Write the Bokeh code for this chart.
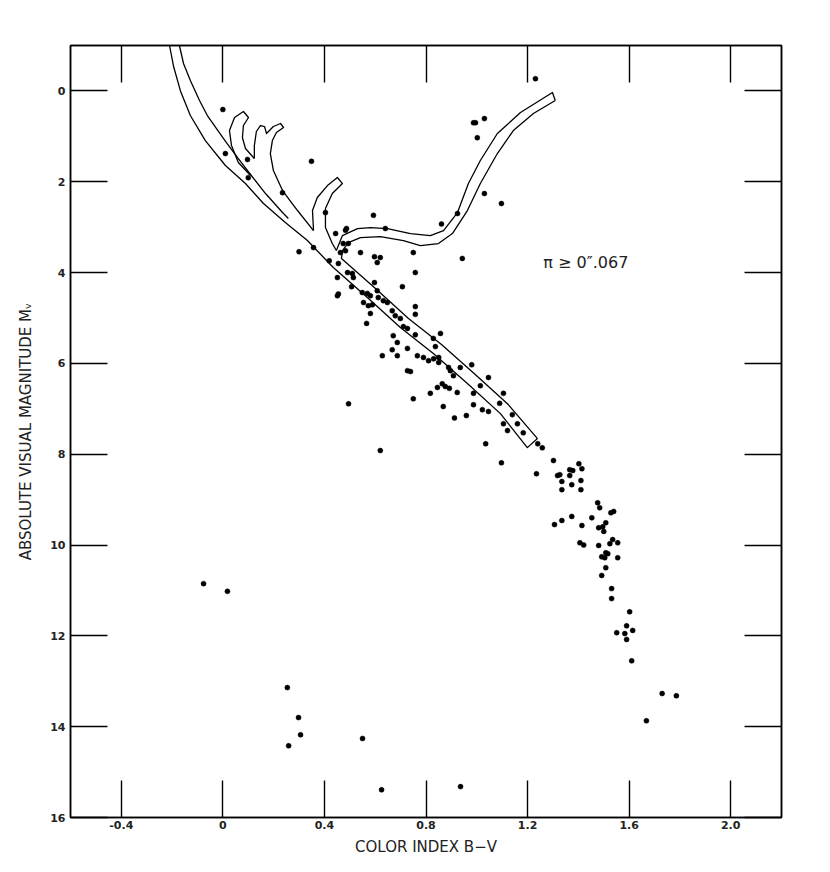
from bokeh.plotting import figure
from bokeh.models import LinearAxis, FixedTicker, Label, CustomJSTickFormatter, Range1d
from bokeh.embed import file_html
from bokeh.resources import INLINE

# ---------------- data ----------------
x_ticks = [-0.4, 0.0, 0.4, 0.8, 1.2, 1.6, 2.0]
x_tick_labels = ["-0.4", "0", "0.4", "0.8", "1.2", "1.6", "2.0"]
y_ticks = [0, 2, 4, 6, 8, 10, 12, 14, 16]
y_tick_labels = ["0", "2", "4", "6", "8", "10", "12", "14", "16"]

star_bv = [
    0.00, 0.01, 0.097, 0.10, 0.235, 0.349, 0.404, 0.30, 0.357, 0.444, 0.593,
    1.231, 0.987, 0.995, 1.030, 1.002, 1.030, 1.097, 0.924, 0.861, 0.640, 0.487, 0.483,
    0.474, 0.494, 0.463, 0.483, 0.542, 0.750, 0.597, 0.620, 0.608, 0.943, 0.419, 0.455,
    0.758, 0.491, 0.510, 0.451, 0.514, 0.597, 0.507, 0.707, 0.451, 0.455, 0.549, 0.569,
    0.581, 0.612, 0.632, 0.648, 0.608, 0.554, 0.573, 0.589, 0.581, 0.758, 0.758, 0.667,
    0.679, 0.699, 0.566, 0.711, 0.727, 0.671, 0.687, 0.758, 0.857, 0.829, 0.837, 0.628,
    0.667, 0.687, 0.727, 0.766, 0.790, 0.81, 0.83, 0.85, 0.85, 0.727, 0.739, 0.889,
    0.896, 0.935, 0.980, 0.908, 1.014, 1.046, 0.864, 0.876, 0.845, 0.892, 0.923, 0.817,
    0.987, 1.105, 0.750, 0.495, 0.868, 0.987, 1.022, 1.046, 1.090, 1.140, 0.912, 0.959,
    1.121, 1.160, 1.183, 1.105, 1.035, 1.240, 1.258, 0.62,
    1.097, 1.235, 1.302, 1.318, 1.327, 1.335, 1.335, 1.366, 1.378, 1.366, 1.374, 1.402,
    1.414, 1.410, 1.410, 1.306, 1.335, 1.374, 1.414, 1.453, 1.476, 1.484, 1.528, 1.539,
    1.508, 1.480, 1.496, 1.500, 1.406, 1.421, 1.480, 1.524, 1.535, 1.555, 1.508, 1.516,
    1.492, 1.504, 1.555, 1.508, 1.492, 1.531, 1.531, 1.602, 1.590, 1.551, 1.583, 1.614,
    1.590, 1.610, 1.730, 1.786, 1.668,
    -0.076, 0.018, 0.254, 0.298, 0.306, 0.259, 0.550, 0.625, 0.936,
]
star_mv = [
    0.41, 1.38, 1.51, 1.91, 2.24, 1.55, 2.68, 3.54, 3.45, 3.14, 2.74,
    -0.27, 0.70, 0.70, 0.61, 1.03, 2.26, 2.48, 2.70, 2.93, 3.03, 3.03, 3.07,
    3.36, 3.36, 3.56, 3.52, 3.56, 3.56, 3.65, 3.67, 3.78, 3.69, 3.74, 3.80,
    4.00, 4.00, 4.02, 4.11, 4.11, 4.22, 4.31, 4.31, 4.51, 4.47, 4.44, 4.46,
    4.51, 4.55, 4.62, 4.66, 4.40, 4.66, 4.73, 4.71, 4.90, 4.75, 4.92, 4.84,
    4.95, 5.01, 5.12, 5.19, 5.23, 5.39, 5.54, 5.37, 5.34, 5.45, 5.63, 5.83,
    5.70, 5.83, 5.67, 5.83, 5.87, 5.94, 5.90, 5.87, 5.98, 6.16, 6.18, 6.09,
    6.16, 6.09, 6.03, 6.27, 6.49, 6.31, 6.45, 6.51, 6.53, 6.55, 6.64, 6.66,
    6.66, 6.66, 6.78, 6.89, 6.95, 6.91, 7.02, 7.06, 6.88, 7.13, 7.20, 7.15,
    7.48, 7.33, 7.53, 7.33, 7.77, 7.77, 7.86, 7.92,
    8.19, 8.43, 8.14, 8.47, 8.45, 8.60, 8.78, 8.34, 8.36, 8.47, 8.67, 8.21,
    8.32, 8.58, 8.78, 9.55, 9.46, 9.37, 9.57, 9.40, 9.07, 9.18, 9.29, 9.26,
    9.51, 9.62, 9.60, 9.70, 9.95, 10.00, 10.01, 9.97, 9.88, 9.95, 10.17, 10.19,
    10.26, 10.28, 10.28, 10.50, 10.67, 10.96, 11.18, 11.47, 11.78, 11.93, 11.95, 11.88,
    12.08, 12.55, 13.27, 13.32, 13.87,
    10.85, 11.02, 13.14, 13.80, 14.18, 14.42, 14.26, 15.39, 15.32,
]

# lower (zero-age) edge of the main-sequence band, with its closing cap
ms_lower_bv = [-0.210, -0.194, -0.167, -0.128, -0.069, 0.010, 0.089, 0.160, 0.246,
               0.333, 0.435, 0.569, 0.699, 0.829, 0.963, 1.093, 1.199, 1.239]
ms_lower_mv = [-1.0, -0.537, 0.0, 0.542, 1.093, 1.643, 2.040, 2.480, 2.899,
               3.295, 3.890, 4.551, 5.211, 5.784, 6.445, 7.106, 7.855, 7.656]

# upper edge of the main-sequence band turning into the lower edge of the giant branch
ms_upper_bv = [1.239, 1.124, 0.994, 0.861, 0.731, 0.601, 0.467, 0.471, 0.494, 0.542,
               0.620, 0.711, 0.778, 0.849, 0.904, 0.963, 1.014, 1.081, 1.144, 1.223, 1.309]
ms_upper_mv = [7.656, 6.907, 6.247, 5.586, 5.013, 4.352, 3.692, 3.515, 3.339, 3.229,
               3.207, 3.295, 3.405, 3.361, 3.141, 2.634, 2.040, 1.379, 0.872, 0.498, 0.211]

# upper edge of the giant branch band, back down to the turnoff
giant_upper_bv = [1.309, 1.298, 1.172, 1.081, 1.014, 0.967, 0.924, 0.869, 0.817,
                  0.739, 0.648, 0.581, 0.530, 0.471, 0.447]
giant_upper_mv = [0.211, 0.035, 0.476, 0.938, 1.533, 2.040, 2.678, 3.075, 3.185,
                  3.141, 3.031, 3.009, 3.031, 3.185, 3.515]

# hook at B-V ~ 0.4
hook3_bv = [0.447, 0.431, 0.404, 0.404, 0.431, 0.471, 0.451, 0.412, 0.372, 0.353, 0.357]
hook3_mv = [3.515, 3.361, 3.009, 2.590, 2.260, 2.040, 1.907, 2.084, 2.348, 2.634, 3.075]

# long track and the double hook at B-V ~ 0.15-0.24
hook2_bv = [0.357, 0.294, 0.235, 0.199, 0.187, 0.195, 0.211, 0.239, 0.227, 0.199,
            0.172, 0.164, 0.148, 0.132, 0.124, 0.124]
hook2_mv = [3.075, 2.634, 2.194, 1.753, 1.379, 1.093, 0.916, 0.806, 0.718, 0.784,
            0.938, 0.784, 0.762, 0.894, 1.203, 1.489]

# hook at B-V ~ 0.05
hook1_bv = [0.124, 0.089, 0.077, 0.081, 0.101, 0.081, 0.046, 0.026, 0.034, 0.061, 0.109]
hook1_mv = [1.489, 1.269, 1.026, 0.762, 0.586, 0.454, 0.586, 0.872, 1.203, 1.577, 1.863]

# second line from the top
inner_bv = [-0.171, -0.155, -0.128, -0.092, -0.061, -0.025, 0.014, 0.061, 0.109,
            0.168, 0.235, 0.258]
inner_mv = [-1.0, -0.604, -0.229, 0.211, 0.542, 0.828, 1.137, 1.489, 1.841,
            2.260, 2.678, 2.811]

note_text = "\u03c0 \u2265 0\u2033.067"
note_bv, note_mv = 1.262, 3.78

# ---------------- figure ----------------
FONT = "DejaVu Sans"

p = figure(frame_width=711, frame_height=772,
           x_range=Range1d(-0.6, 2.2), y_range=Range1d(16, -1),
           output_backend="svg", toolbar_location=None,
           min_border_left=70, min_border_right=30,
           min_border_top=45, min_border_bottom=48,
           x_axis_label="COLOR INDEX B\u2212V",
           y_axis_label="ABSOLUTE VISUAL MAGNITUDE M\u1d65")
p.grid.visible = False
p.background_fill_color = "white"
p.border_fill_color = "white"
p.outline_line_color = "black"
p.outline_line_width = 1.5

xt = FixedTicker(ticks=x_ticks)
yt = FixedTicker(ticks=y_ticks)

for ax, tk, labels in ((p.xaxis[0], xt, dict(zip(x_ticks, x_tick_labels))),
                       (p.yaxis[0], yt, dict(zip(y_ticks, y_tick_labels)))):
    ax.ticker = tk
    ax.major_label_overrides = labels
    ax.minor_tick_line_color = None
    ax.major_tick_in = 37
    ax.major_tick_out = 0
    ax.major_tick_line_width = 1.4
    ax.major_tick_line_color = "black"
    ax.axis_line_color = "black"
    ax.axis_line_width = 1.5
    ax.major_label_text_font = FONT
    ax.major_label_text_font_size = "11px"
    ax.major_label_text_font_style = "bold"
    ax.major_label_text_color = "#222222"
    ax.axis_label_text_font = FONT
    ax.axis_label_text_font_size = "15px"
    ax.axis_label_text_font_style = "normal"
    ax.axis_label_text_color = "#222222"

p.xaxis[0].major_label_standoff = 3
p.xaxis[0].axis_label_standoff = 6
p.yaxis[0].major_label_standoff = 5
p.yaxis[0].axis_label_standoff = 12
p.yaxis[0].major_label_orientation = "horizontal"

blank = CustomJSTickFormatter(code="return ''")
top = LinearAxis(ticker=FixedTicker(ticks=x_ticks), formatter=blank)
right = LinearAxis(ticker=FixedTicker(ticks=y_ticks), formatter=blank)
for ax in (top, right):
    ax.minor_tick_line_color = None
    ax.major_tick_in = 37
    ax.major_tick_out = 0
    ax.major_tick_line_width = 1.4
    ax.major_tick_line_color = "black"
    ax.axis_line_color = "black"
    ax.axis_line_width = 1.5
    ax.major_label_standoff = 0
p.add_layout(top, "above")
p.add_layout(right, "right")

# curves
for bx, my in ((ms_lower_bv, ms_lower_mv), (ms_upper_bv, ms_upper_mv),
               (giant_upper_bv, giant_upper_mv), (hook3_bv, hook3_mv),
               (hook2_bv, hook2_mv), (hook1_bv, hook1_mv), (inner_bv, inner_mv)):
    p.line(bx, my, line_color="black", line_width=1.3, line_join="round")

# stars
p.scatter(star_bv, star_mv, size=5, marker="circle",
          fill_color="black", line_color="black", line_width=0.5)

p.add_layout(Label(x=note_bv, y=note_mv, text=note_text, text_font=FONT,
                   text_font_size="16px", text_baseline="middle",
                   text_align="left", text_color="#222222"))

open("out.html", "w").write(file_html(p, INLINE))
